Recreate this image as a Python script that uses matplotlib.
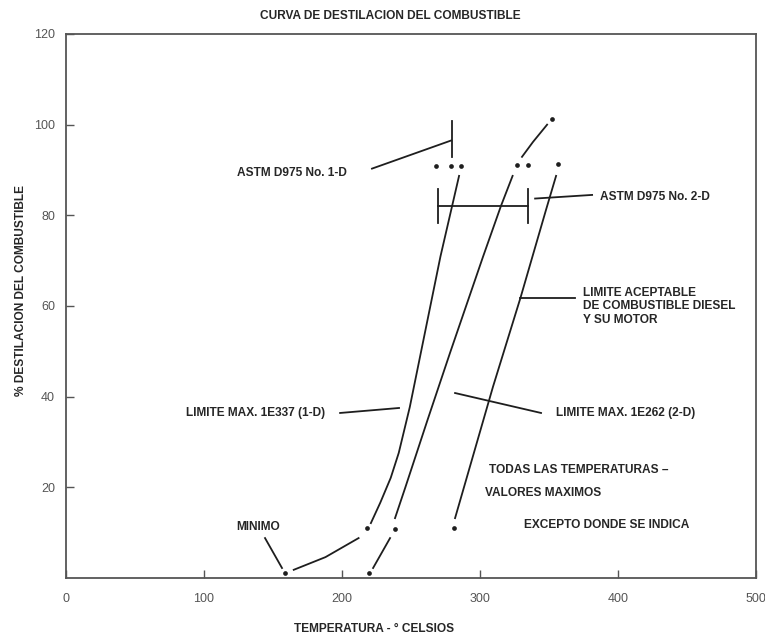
import matplotlib
matplotlib.use("Agg")
import matplotlib.pyplot as plt

plt.rcParams["font.family"] = ["Liberation Sans", "DejaVu Sans"]

INK = "#1e1e1e"
GREY = "#555555"

# limite max. 1E337 (1-D): tramo inferior desde el minimo y tramo principal
d1_low_x = [165, 188, 212]
d1_low_y = [1.8, 4.6, 8.8]
d1_x = [220.9, 227.7, 235.3, 241.1, 249.1, 262.0, 271.3, 279.8, 284.8]
d1_y = [12.1, 16.6, 22.1, 27.6, 37.7, 57.0, 70.9, 82.1, 88.7]

# limite max. 1E262 (2-D)
d2_low_x = [222.5, 234.8]
d2_low_y = [2.2, 8.8]
d2_x = [238.4, 246.0, 262.0, 278.3, 302.2, 315.2, 323.6]
d2_y = [13.2, 20.1, 34.9, 49.7, 70.9, 82.1, 88.7]
d2_top_x = [330.4, 338.4, 348.6]
d2_top_y = [92.9, 96.2, 100.0]

# limite aceptable de combustible diesel y su motor
acc_x = [281.9, 309.4, 329.3, 347.8, 355.1]
acc_y = [13.2, 42.2, 61.8, 81.2, 88.7]

# puntos
dots_x = [158.7, 219.6, 218.1, 238.4, 281.2,
          268.1, 279.0, 286.2, 326.8, 334.8, 356.5, 352.2]
dots_y = [1.1, 1.1, 11.0, 10.8, 11.0,
          90.9, 90.9, 90.9, 91.2, 91.2, 91.4, 101.3]

# ASTM D975 No. 2-D (rango a 80 %) y No. 1-D (a 90 %)
range2_x = [269.6, 334.8]
range2_y = 82.1
range2_cap = [78.4, 85.9]
mark1_x = 279.7
mark1_y = [92.9, 100.7]

# lineas de referencia de las etiquetas
leaders = [
    ([221.7, 279.0], [90.3, 96.5]),     # ASTM 1-D
    ([339.9, 381.2], [83.7, 84.5]),     # ASTM 2-D
    ([329.3, 368.8], [61.8, 61.8]),     # limite aceptable
    ([198.6, 241.3], [36.4, 37.5]),     # 1E337
    ([281.9, 344.2], [40.8, 36.4]),     # 1E262
    ([144.2, 156.5], [8.8, 2.2]),       # minimo
]

x_ticks = [0, 100, 200, 300, 400, 500]
y_ticks = [20, 40, 60, 80, 100, 120]

fig = plt.figure(figsize=(7.65, 6.39), dpi=100)
ax = fig.add_axes([0.0863, 0.0955, 0.9020, 0.8513])
ax.set_xlim(0, 500)
ax.set_ylim(0, 120)

lw = 1.3
ax.plot(d1_low_x, d1_low_y, color=INK, lw=lw)
ax.plot(d1_x, d1_y, color=INK, lw=lw)
ax.plot(d2_low_x, d2_low_y, color=INK, lw=lw)
ax.plot(d2_x, d2_y, color=INK, lw=lw)
ax.plot(d2_top_x, d2_top_y, color=INK, lw=lw)
ax.plot(acc_x, acc_y, color=INK, lw=lw)
ax.plot(dots_x, dots_y, "o", color=INK, ms=3.4, mec="none")

ax.plot(range2_x, [range2_y, range2_y], color=INK, lw=lw)
for xv in range2_x:
    ax.plot([xv, xv], range2_cap, color=INK, lw=lw)
ax.plot([mark1_x, mark1_x], mark1_y, color=INK, lw=lw)

for lx, ly in leaders:
    ax.plot(lx, ly, color=INK, lw=lw)

lab = dict(fontsize=8.6, fontweight="bold", color="#262626", va="center", ha="left")
ax.text(124, 89.4, "ASTM D975 No. 1-D", **lab)
ax.text(387, 84.1, "ASTM D975 No. 2-D", **lab)
ax.text(374.6, 62.9, "LIMITE ACEPTABLE", **lab)
ax.text(374.6, 59.9, "DE COMBUSTIBLE DIESEL", **lab)
ax.text(374.6, 56.9, "Y SU MOTOR", **lab)
ax.text(87, 36.4, "LIMITE MAX. 1E337 (1-D)", **lab)
ax.text(355, 36.4, "LIMITE MAX. 1E262 (2-D)", **lab)
ax.text(306.5, 23.8, "TODAS LAS TEMPERATURAS \u2013", **lab)
ax.text(303.6, 18.8, "VALORES MAXIMOS", **lab)
ax.text(331.9, 11.7, "EXCEPTO DONDE SE INDICA", **lab)
ax.text(123.2, 11.3, "MINIMO", **lab)

ax.set_xticks(x_ticks)
ax.set_yticks(y_ticks)
ax.tick_params(direction="in", length=6, width=1.0, color=GREY,
               labelsize=9, labelcolor=GREY)
ax.tick_params(axis="x", pad=11)
ax.tick_params(axis="y", pad=8)
for s in ax.spines.values():
    s.set_color(GREY)
    s.set_linewidth(1.3)

fig.text(0.51, 0.975, "CURVA DE DESTILACION DEL COMBUSTIBLE", fontsize=8.6,
         fontweight="bold", color="#262626", ha="center", va="center")
fig.text(0.489, 0.015, "TEMPERATURA - \u00b0 CELSIOS", fontsize=8.6,
         fontweight="bold", color="#262626", ha="center", va="center")
fig.text(0.027, 0.545, "% DESTILACION DEL COMBUSTIBLE", fontsize=8.6,
         fontweight="bold", color="#262626", ha="center", va="center",
         rotation=90)

fig.savefig("out.png", dpi=100, facecolor="white")
